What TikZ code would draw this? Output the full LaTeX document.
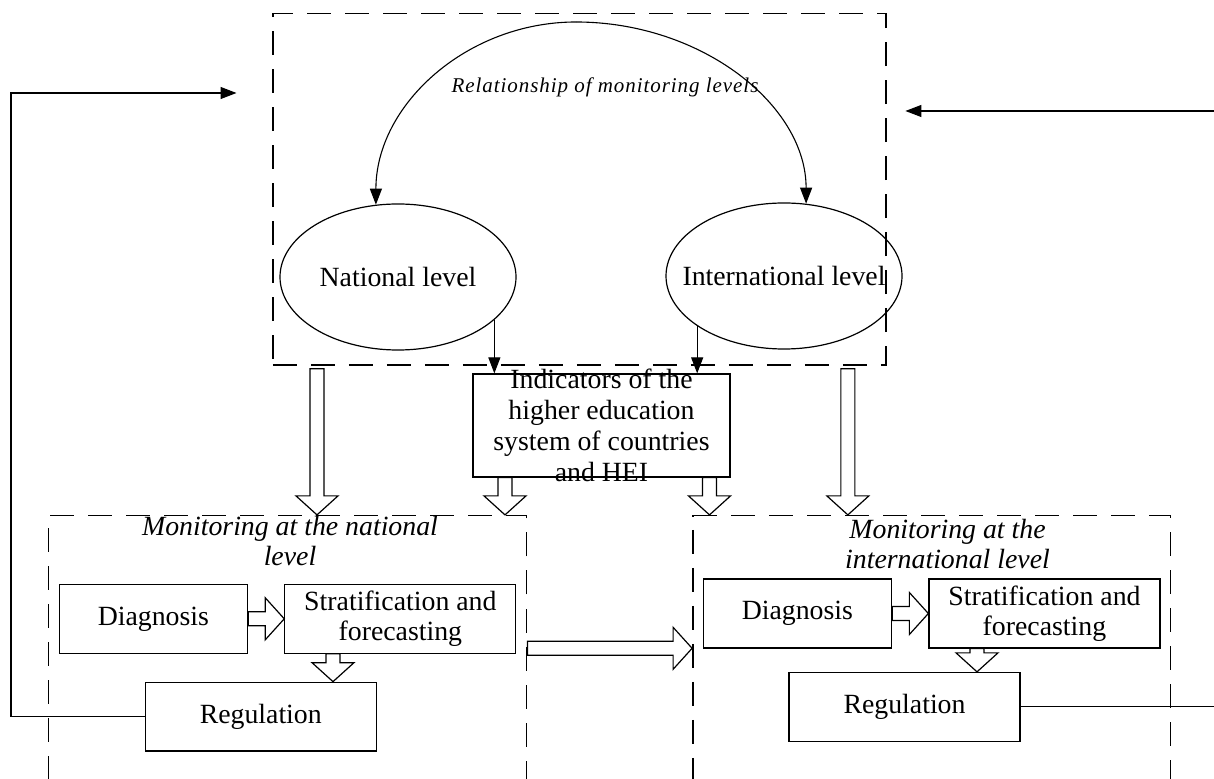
\documentclass[tikz,border=0pt]{standalone}
\usepackage{fontspec}
\setmainfont{Liberation Serif}
\newfontfamily\spacedserif[LetterSpace=4.5]{Liberation Serif}
\usetikzlibrary{positioning,arrows.meta,calc,shapes.geometric}

% hollow block arrow from #1 to #2
\newcommand{\hollowarrow}[2]{%
  \coordinate (hs) at (#1);
  \coordinate (he) at (#2);
  \coordinate (hb) at ($(he)!9.5pt!(hs)$);
  \draw[hollow] ($(hs)!3.5pt!90:(he)$) -- ($(hb)!3.5pt!90:(he)$) -- ($(hb)!10.5pt!90:(he)$)
    -- (he) -- ($(hb)!10.5pt!-90:(he)$) -- ($(hb)!3.5pt!-90:(he)$) -- ($(hs)!3.5pt!-90:(he)$) -- cycle;
}

\begin{document}
\begin{tikzpicture}[
    x=0.5pt, y=-0.5pt,
    every node/.style={font=\fontsize{13.9}{15}\selectfont},
    frame/.style={draw, dash pattern=on 12pt off 7pt, line width=0.7pt, inner sep=0pt},
    lvl/.style={draw, ellipse, line width=0.6pt, minimum width=118pt, minimum height=73pt, inner sep=0pt},
    stage/.style={draw, line width=0.6pt, minimum height=34.4pt, inner sep=0pt, align=center},
    short/.style={stage, minimum width=94.2pt},
    long/.style={stage, minimum width=115.5pt},
    title/.style={font=\fontsize{13.9}{15}\selectfont\itshape, align=center},
    arrow/.style={-{Triangle[length=8pt,width=6pt]}, line width=0.55pt},
    hollow/.style={draw, fill=white, line width=0.6pt, line join=miter}
]
    \useasboundingbox (0,0) rectangle (1214,779);
    \fill[white] (0,0) rectangle (1214,779);
    \clip (0,0) rectangle (1214,779);

    % Dashed frames
    \node[frame, minimum width=306.5pt, minimum height=175.9pt] (top) at (579.3,189.2) {};
    \node[frame, minimum width=239.25pt, minimum height=142.2pt] (natmon) at (287.5,657.8) {};
    \node[frame, minimum width=238.85pt, minimum height=142.2pt] (intlmon) at (931.65,657.8) {};

    % Levels of monitoring
    \node[lvl, label={[name=natlabel]center:National level}] (nat) at (398,277) {};
    \node[lvl, label={[name=intllabel]center:International level}] (intl) at (784,276) {};
    \node[font=\fontsize{10.5}{12}\spacedserif\itshape] (rel) at (605,87) {Relationship of monitoring levels};
    \coordinate (apex) at (576,22);

    % Indicators box
    \node[draw, line width=0.6pt, minimum width=128.5pt, minimum height=51.5pt, inner sep=0pt,
        label={[name=indtext, align=center, font=\fontsize{13.9}{15.4}\selectfont]center:Indicators of the\\higher education\\system of countries\\and HEI}]
        (ind) at (601.5,425.5) {};

    % National monitoring
    \node[title] (nattitle) at (290,541) {Monitoring at the national\\level};
    \node[short] (diag1) at (153.4,618.8) {Diagnosis};
    \node[long] (strat1) at (400.35,618.8) {Stratification and\\forecasting};
    \node[long] (reg1) at (260.75,716.65) {Regulation};

    % International monitoring
    \node[title] (intltitle) at (947.5,544) {Monitoring at the\\international level};
    \node[short] (diag2) at (797.35,613.5) {Diagnosis};
    \node[long] (strat2) at (1044.45,613.5) {Stratification and\\forecasting};
    \node[long] (reg2) at (904.5,706.85) {Regulation};

    % Arcs between levels
    \draw[arrow] (apex) .. controls +(-109,0) and +(0,-100) .. (nat.107);
    \draw[arrow] (apex) .. controls +(125,0) and +(0,-99) .. (intl.73);

    % Levels feed the indicators
    \draw[arrow] (nat.-24) -- (nat.-24 |- ind.north);
    \draw[arrow] (intl.210) -- (intl.210 |- ind.north);

    % Feedback loops
    \coordinate (loopL) at (11,93);
    \coordinate (inL) at (236.5,93);
    \draw[arrow] (reg1.west) -| (loopL) -- (inL);
    \coordinate (loopR) at (1222,111);
    \coordinate (inR) at (905.4,111);
    \draw[arrow] (reg2.east) -| (loopR) -- (inR);

    % Block arrows
    \hollowarrow{$(top.south -| natmon.north)+(29.5,3)$}{$(natmon.north)+(29.5,0)$}
    \hollowarrow{$(ind.south)+(-96.5,0)$}{$(ind.south |- natmon.north)+(-96.5,0)$}
    \hollowarrow{$(ind.south)+(108,0)$}{$(ind.south |- intlmon.north)+(108,0)$}
    \hollowarrow{$(top.south -| intlmon.north)+(-83.8,3)$}{$(intlmon.north)+(-83.8,0)$}
    \hollowarrow{$(natmon.east)+(0,-9.5)$}{$(intlmon.west)+(0,-9.5)$}
    \hollowarrow{diag1.east}{strat1.west}
    \hollowarrow{$(strat1.south)+(-67.35,0)$}{$(strat1.south |- reg1.north)+(-67.35,0)$}
    \hollowarrow{diag2.east}{strat2.west}
    \hollowarrow{$(strat2.south)+(-67.45,0)$}{$(strat2.south |- reg2.north)+(-67.45,0)$}
\end{tikzpicture}
\end{document}
